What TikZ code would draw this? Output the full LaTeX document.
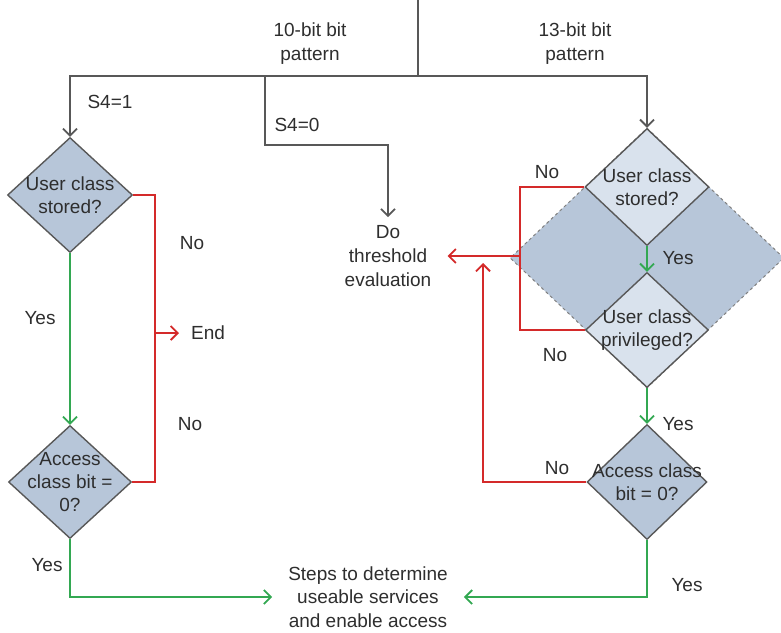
\documentclass[tikz,border=0pt]{standalone}
\usepackage{fontspec}
\setmainfont{Liberation Sans}
\usetikzlibrary{shapes.geometric,arrows.meta}
\definecolor{boxfill}{HTML}{B7C6D9}
\definecolor{lightfill}{HTML}{D9E2ED}
\definecolor{noline}{HTML}{D42A2A}
\definecolor{yesline}{HTML}{33A852}
\definecolor{flowline}{HTML}{585858}
\definecolor{txt}{HTML}{2E2E2E}
\newcommand{\ow}[1]{\makebox[0pt]{#1}}
\tikzset{
    lbl/.style={text=txt,font=\fontsize{19}{24}\selectfont,align=center,inner sep=1pt},
    decision/.style={diamond,draw=flowline,fill=boxfill,line width=1.4pt,inner sep=0pt,
        text=txt,font=\fontsize{19}{23}\selectfont,align=center},
    flow/.style={draw=flowline,line width=1.8pt},
    yes/.style={draw=yesline,line width=1.8pt},
    no/.style={draw=noline,line width=1.8pt}
}

\begin{document}
\begin{tikzpicture}[x=1pt,y=-1pt,>={Straight Barb[length=7pt,width=14pt]}]
    \useasboundingbox (0,0) rectangle (781,632);
    %big dashed diamond behind the two checks on the right
    \node[decision,draw=gray,dashed,line width=1pt,minimum width=274pt,minimum height=260pt] (bigd) at (647,258) {};
    % left branch
    \node[decision,minimum width=125pt,minimum height=115pt] (ucl) at (70,195) {\ow{User class}\\\ow{stored?}};
    \node[decision,minimum width=123pt,minimum height=113pt] (acl) at (70,482) {\ow{Access}\\\ow{class bit =}\\\ow{0?}};
    % right branch
    \node[decision,fill=lightfill,minimum width=124pt,minimum height=117pt] (ucr) at (647,187) {\ow{User class}\\\ow{stored?}};
    \node[decision,fill=lightfill,minimum width=123pt,minimum height=115pt] (upr) at (647,330) {\ow{User class}\\\ow{privileged?}};
    \node[decision,minimum width=120pt,minimum height=115pt] (acr) at (647,482) {\ow{Access class}\\\ow{bit = 0?}};
    % targets
    \node[lbl,inner xsep=16pt,inner ysep=8pt] (thr) at (388,256) {Do\\threshold\\evaluation};
    \node[lbl,inner xsep=16pt,font=\fontsize{19}{23.5}\selectfont] (steps) at (368,597) {Steps to determine\\useable services\\and enable access};
    \node[lbl,anchor=west,inner xsep=12pt] (endn) at (179,333) {End};

    \coordinate (src) at (418,0);
    \coordinate (fork) at (418,76);
    \coordinate (fork0) at (265,76);
    \coordinate (noL) at (155,333);
    \coordinate (noR) at (520,256);
    \coordinate (noUp) at (483,263);

    \draw[flow] (src) -- (fork);
    \draw[flow,->] (fork) -| (ucl.north);
    \draw[flow,->] (fork) -| (ucr.north);
    \draw[flow,->] (fork0) -- ++(0,69) -| (thr.north);

    \draw[no] (ucl.east) -| (noL) |- (acl.east);
    \draw[no,->] (noL) -- (endn.west);
    \draw[no] (ucr.west) -| (noR) |- (upr.west);
    \draw[no,->] (noR) -- (thr.east);
    \draw[no,->] (acr.west) -| (noUp);

    \draw[yes,->] (ucl.south) -- (acl.north);
    \draw[yes,->] (acl.south) |- (steps.west);
    \draw[yes,->] (ucr.south) -- (upr.north);
    \draw[yes,->] (upr.south) -- (acr.north);
    \draw[yes,->] (acr.south) |- (steps.east);

    % labels
    \node[lbl] (ten) at (310,44) {10-bit bit\\pattern};
    \node[lbl] (thirteen) at (575,44) {13-bit bit\\pattern};
    \node[lbl] (s1) at (110,102) {S4=1};
    \node[lbl] (s0) at (297,125) {S4=0};
    \node[lbl] (no1) at (192,243) {No};
    \node[lbl] (no2) at (190,424) {No};
    \node[lbl] (yes1) at (40,318) {Yes};
    \node[lbl] (yes2) at (47,565) {Yes};
    \node[lbl] (no3) at (547,172) {No};
    \node[lbl] (no4) at (555,355) {No};
    \node[lbl] (no5) at (557,468) {No};
    \node[lbl] (yes3) at (678,258) {Yes};
    \node[lbl] (yes4) at (678,424) {Yes};
    \node[lbl] (yes5) at (687,585) {Yes};
\end{tikzpicture}
\end{document}
